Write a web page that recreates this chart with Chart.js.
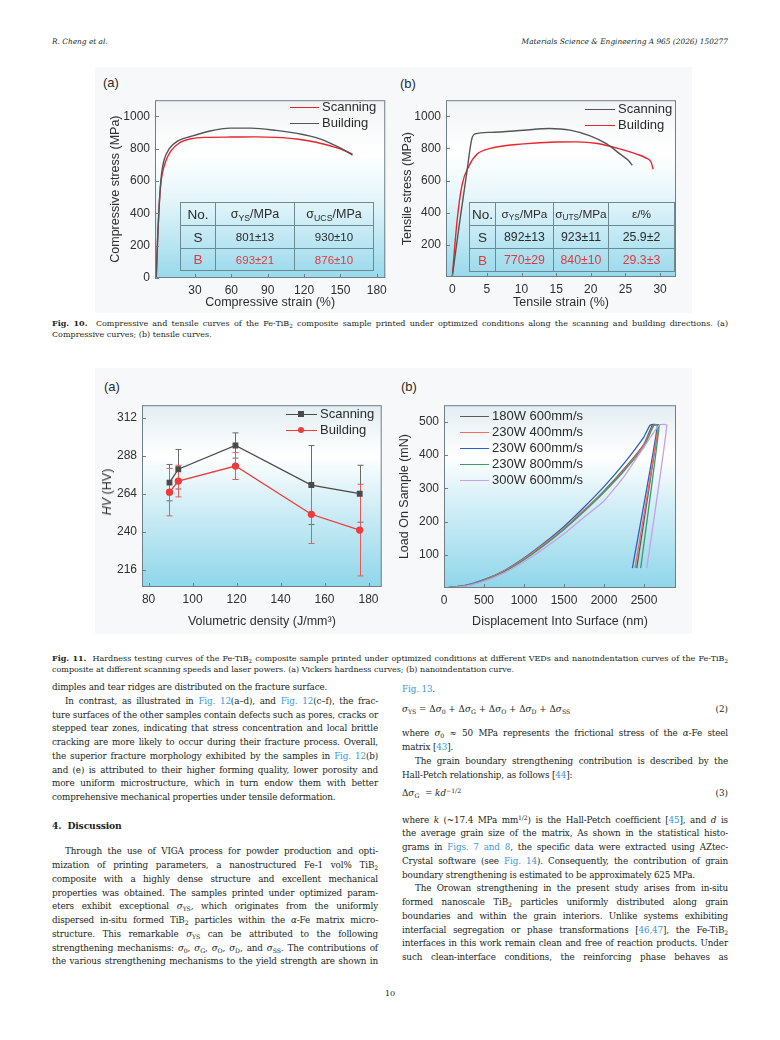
<!DOCTYPE html>
<html>
<head>
<meta charset="utf-8">
<script src="https://cdn.jsdelivr.net/npm/chart.js@4.4.1/dist/chart.umd.min.js"></script>
<style>
  body { margin: 0; background: #fff; }
  #page { position: relative; width: 780px; height: 1040px; overflow: hidden; font-family: "DejaVu Serif", serif; color: #231f20; }
  .hdr { position: absolute; top: 37px; font-style: italic; font-size: 7.4px; }
  .fig { position: absolute; background: #f7f8f9; }
  canvas { position: absolute; }
  .sans { font-family: "Liberation Sans", Arial, sans-serif; color: #2b2b2b; }
  .plabel { position: absolute; font-size: 13px; line-height: 14px; }
  .leg { position: absolute; font-size: 13px; line-height: 16px; white-space: nowrap; }
  .leg i { display: inline-block; height: 0; border-top: 1.4px solid; vertical-align: middle; position: relative; }
  .leg b { position: absolute; top: -4px; width: 6px; height: 6px; }
  table.tb { position: absolute; border-collapse: collapse; table-layout: fixed; }
  .tb td { border: 1px solid #6d8a92; text-align: center; padding: 0; white-space: nowrap; }
  .tb .big { font-size: 13.5px; }
  .tb .red { color: #e03a3e; }
  sub { font-size: 70%; vertical-align: -0.3em; line-height: 0; }
  sup { font-size: 70%; vertical-align: 0.45em; line-height: 0; }
  .cap { position: absolute; left: 52px; width: 676px; font-size: 8px; }
  .cap div, .col div { white-space: nowrap; text-align: justify; text-align-last: justify; }
  .cap div { height: 12.5px; line-height: 12.5px; }
  .col { position: absolute; width: 326px; font-size: 8.8px; letter-spacing: -0.14px; }
  .col div { height: 13.75px; line-height: 13.75px; }
  .col .end, .cap .end { text-align-last: left; }
  .col .ind { text-indent: 13px; }
  .lk { color: #3c97d3; }
  .eq { position: absolute; left: 402px; width: 326px; font-size: 8.8px; height: 14px; line-height: 14px; }
  .eq span.no { position: absolute; right: 0; }
</style>
</head>
<body>
<div id="page">
  <div class="hdr" style="left:52px">R. Cheng et al.</div>
  <div class="hdr" style="right:52px">Materials Science &amp; Engineering A 965 (2026) 150277</div>

  <!-- Fig. 10 -->
  <div class="fig" style="left:95px;top:67px;width:597px;height:246px"></div>
  <div class="plabel sans" style="left:103px;top:76px">(a)</div>
  <div class="plabel sans" style="left:400px;top:77px">(b)</div>
  <canvas id="comp" width="292" height="226" style="left:100px;top:88px"></canvas>
  <canvas id="tens" width="291" height="226" style="left:395px;top:88px"></canvas>

  <div class="leg sans" style="left:290px;top:99px"><i style="width:29px;margin-right:3px;border-color:#e8242c"></i>Scanning<br><i style="width:29px;margin-right:3px;border-color:#555"></i>Building</div>
  <div class="leg sans" style="left:585px;top:101px"><i style="width:30px;margin-right:3px;border-color:#555"></i>Scanning<br><i style="width:30px;margin-right:3px;border-color:#e8242c"></i>Building</div>

  <table class="tb sans" style="left:180px;top:202px;width:193px;height:68px">
    <colgroup><col style="width:35px"><col style="width:79px"><col style="width:79px"></colgroup>
    <tr style="height:23px;font-size:12.5px"><td class="big">No.</td><td>σ<sub>YS</sub>/MPa</td><td>σ<sub>UCS</sub>/MPa</td></tr>
    <tr style="height:23px;font-size:11.5px"><td class="big">S</td><td>801±13</td><td>930±10</td></tr>
    <tr style="height:22px;font-size:11.5px" class="red"><td class="big">B</td><td>693±21</td><td>876±10</td></tr>
  </table>
  <table class="tb sans" style="left:469px;top:202px;width:205px;height:69px">
    <colgroup><col style="width:26px"><col style="width:58px"><col style="width:55px"><col style="width:66px"></colgroup>
    <tr style="height:23px;font-size:11.8px"><td class="big">No.</td><td>σ<sub>YS</sub>/MPa</td><td>σ<sub>UTS</sub>/MPa</td><td>ε/%</td></tr>
    <tr style="height:23px;font-size:12.3px"><td class="big">S</td><td>892±13</td><td>923±11</td><td>25.9±2</td></tr>
    <tr style="height:23px;font-size:12.3px" class="red"><td class="big">B</td><td>770±29</td><td>840±10</td><td>29.3±3</td></tr>
  </table>

  <div class="cap" style="top:316.75px">
    <div><b>Fig. 10.</b>&nbsp; Compressive and tensile curves of the Fe-TiB<sub>2</sub> composite sample printed under optimized conditions along the scanning and building directions. (a)</div>
    <div class="end">Compressive curves; (b) tensile curves.</div>
  </div>

  <!-- Fig. 11 -->
  <div class="fig" style="left:95px;top:368px;width:597px;height:266px"></div>
  <div class="plabel sans" style="left:104px;top:380px">(a)</div>
  <div class="plabel sans" style="left:401px;top:380px">(b)</div>
  <canvas id="hard" width="292" height="240" style="left:95px;top:393px"></canvas>
  <canvas id="nano" width="294" height="240" style="left:392px;top:393px"></canvas>
  <div class="sans" style="position:absolute;left:107px;top:492px;transform:translate(-50%,-50%) rotate(-90deg);font-size:12.5px;white-space:nowrap"><i>HV</i> (HV)</div>

  <div class="leg sans" style="left:286px;top:406px"><i style="width:31px;margin-right:3px;border-color:#4a4a4a"><b style="left:12px;background:#4a4a4a"></b></i>Scanning<br><i style="width:31px;margin-right:3px;border-color:#ee3b3b"><b style="left:12px;background:#ee3b3b;border-radius:50%"></b></i>Building</div>
  <div class="leg sans" style="left:460px;top:408px;line-height:16.1px">
    <i style="width:29px;margin-right:3px;border-color:#5b5b5b"></i>180W 600mm/s<br>
    <i style="width:29px;margin-right:3px;border-color:#f26d5f"></i>230W 400mm/s<br>
    <i style="width:29px;margin-right:3px;border-color:#2f5fc4"></i>230W 600mm/s<br>
    <i style="width:29px;margin-right:3px;border-color:#3c9a6c"></i>230W 800mm/s<br>
    <i style="width:29px;margin-right:3px;border-color:#c9a0e6"></i>300W 600mm/s
  </div>

  <div class="cap" style="top:651.75px">
    <div><b>Fig. 11.</b>&nbsp; Hardness testing curves of the Fe-TiB<sub>2</sub> composite sample printed under optimized conditions at different VEDs and nanoindentation curves of the Fe-TiB<sub>2</sub></div>
    <div class="end">composite at different scanning speeds and laser powers. (a) Vickers hardness curves; (b) nanoindentation curve.</div>
  </div>

  <!-- body text, left column -->
  <div class="col" style="left:52px;top:681.1px">
    <div class="end">dimples and tear ridges are distributed on the fracture surface.</div>
    <div class="ind">In contrast, as illustrated in <span class="lk">Fig. 12</span>(a–d), and <span class="lk">Fig. 12</span>(c–f), the frac-</div>
    <div>ture surfaces of the other samples contain defects such as pores, cracks or</div>
    <div>stepped tear zones, indicating that stress concentration and local brittle</div>
    <div>cracking are more likely to occur during their fracture process. Overall,</div>
    <div>the superior fracture morphology exhibited by the samples in <span class="lk">Fig. 12</span>(b)</div>
    <div>and (e) is attributed to their higher forming quality, lower porosity and</div>
    <div>more uniform microstructure, which in turn endow them with better</div>
    <div class="end">comprehensive mechanical properties under tensile deformation.</div>
  </div>
  <div class="col" style="left:52px;top:819.1px;font-weight:bold;font-size:9.2px"><div class="end">4.&nbsp; Discussion</div></div>
  <div class="col" style="left:52px;top:845.4px">
    <div class="ind">Through the use of VIGA process for powder production and opti-</div>
    <div>mization of printing parameters, a nanostructured Fe-1 vol% TiB<sub>2</sub></div>
    <div>composite with a highly dense structure and excellent mechanical</div>
    <div>properties was obtained. The samples printed under optimized param-</div>
    <div>eters exhibit exceptional <i>σ</i><sub>YS</sub>, which originates from the uniformly</div>
    <div>dispersed in-situ formed TiB<sub>2</sub> particles within the <i>α</i>-Fe matrix micro-</div>
    <div>structure. This remarkable <i>σ</i><sub>YS</sub> can be attributed to the following</div>
    <div>strengthening mechanisms: <i>σ</i><sub>0</sub>, <i>σ</i><sub>G</sub>, <i>σ</i><sub>O</sub>, <i>σ</i><sub>D</sub>, and <i>σ</i><sub>SS</sub>. The contributions of</div>
    <div>the various strengthening mechanisms to the yield strength are shown in</div>
  </div>

  <!-- body text, right column -->
  <div class="col" style="left:402px;top:683.1px"><div class="end"><span class="lk">Fig. 13</span>.</div></div>
  <div class="eq" style="top:702px"><i>σ</i><sub>YS</sub> = Δ<i>σ</i><sub>0</sub> + Δ<i>σ</i><sub>G</sub> + Δ<i>σ</i><sub>O</sub> + Δ<i>σ</i><sub>D</sub> + Δ<i>σ</i><sub>SS</sub><span class="no">(2)</span></div>
  <div class="col" style="left:402px;top:727.4px">
    <div>where <i>σ</i><sub>0</sub> ≈ 50 MPa represents the frictional stress of the <i>α</i>-Fe steel</div>
    <div class="end">matrix [<span class="lk">43</span>].</div>
    <div class="ind">The grain boundary strengthening contribution is described by the</div>
    <div class="end">Hall-Petch relationship, as follows [<span class="lk">44</span>]:</div>
  </div>
  <div class="eq" style="top:786.3px">Δ<i>σ</i><sub>G</sub> &nbsp;= <i>kd</i><sup>−1/2</sup><span class="no">(3)</span></div>
  <div class="col" style="left:402px;top:813.6px">
    <div>where <i>k</i> (~17.4 MPa mm<sup>1/2</sup>) is the Hall-Petch coefficient [<span class="lk">45</span>], and <i>d</i> is</div>
    <div>the average grain size of the matrix, As shown in the statistical histo-</div>
    <div>grams in <span class="lk">Figs. 7 and 8</span>, the specific data were extracted using AZtec-</div>
    <div>Crystal software (see <span class="lk">Fig. 14</span>). Consequently, the contribution of grain</div>
    <div class="end">boundary strengthening is estimated to be approximately 625 MPa.</div>
    <div class="ind">The Orowan strengthening in the present study arises from in-situ</div>
    <div>formed nanoscale TiB<sub>2</sub> particles uniformly distributed along grain</div>
    <div>boundaries and within the grain interiors. Unlike systems exhibiting</div>
    <div>interfacial segregation or phase transformations [<span class="lk">46,47</span>], the Fe-TiB<sub>2</sub></div>
    <div>interfaces in this work remain clean and free of reaction products. Under</div>
    <div>such clean-interface conditions, the reinforcing phase behaves as</div>
  </div>

  <div style="position:absolute;left:380px;top:989px;width:20px;text-align:center;font-size:8px">10</div>
</div>

<script>
// Fig. 10(a) compressive curves
const compScanStrain = [-2, -0.8, 0.5, 1.9, 3.3, 6, 10, 17, 26, 38, 60, 80, 97, 114, 130, 145, 153, 160];
const compScanStress = [0, 250, 450, 590, 655, 725, 785, 835, 860, 870, 872, 873, 870, 860, 840, 810, 790, 765];
const compBuildStrain = [-2, -0.5, 1, 2.5, 4.5, 8.8, 15.6, 27, 40, 59, 76, 97, 119, 130, 141, 151, 160];
const compBuildStress = [0, 300, 520, 650, 730, 800, 847, 877, 905, 927, 927, 913, 888, 868, 836, 800, 760];
const compStrainTicks = [30, 60, 90, 120, 150, 180];
const compStressTicks = [0, 200, 400, 600, 800, 1000];

// Fig. 10(b) tensile curves
const tensScanStrain = [0, 1, 2.1, 2.8, 3.3, 5.5, 10.3, 14, 17, 19.9, 22.3, 24.2, 25.4, 26];
const tensScanStress = [0, 320, 650, 855, 890, 900, 913, 924, 914, 878, 828, 766, 726, 695];
const tensBuildStrain = [0, 0.7, 1.4, 2.4, 3.6, 5.5, 10.3, 15, 18, 21, 24.2, 26.6, 28, 28.7, 29];
const tensBuildStress = [0, 350, 570, 690, 765, 800, 828, 840, 841, 831, 797, 765, 740, 715, 670];
const tensStrainTicks = [0, 5, 10, 15, 20, 25, 30];
const tensStressTicks = [200, 400, 600, 800, 1000];

// Fig. 11(a) Vickers hardness
const vedValues = [89.5, 93.5, 119.5, 154, 176];
const hvScan = [271, 279.5, 294.5, 269.5, 264];
const hvScanErr = [11.5, 12.5, 8, 25, 18];
const hvBuild = [265, 272, 281.5, 251, 241];
const hvBuildErr = [15, 10, 8.5, 18.5, 29];
const vedTicks = [80, 100, 120, 140, 160, 180];
const hvTicks = [216, 240, 264, 288, 312];

// Fig. 11(b) nanoindentation (depth nm, load mN)
const depth180w600 = [0, 250, 500, 750, 1000, 1250, 1500, 1750, 2000, 2250, 2500, 2606, 2677, 2409];
const load180w600 = [0, 6, 24, 50, 87, 130, 178, 233, 292, 358, 433, 490, 490, 60];
const depth230w400 = [0, 250, 500, 750, 1000, 1250, 1500, 1750, 2000, 2250, 2500, 2620, 2680, 2388];
const load230w400 = [0, 6, 24, 51, 88, 132, 180, 235, 290, 355, 430, 490, 490, 60];
const depth230w600 = [0, 250, 500, 750, 1000, 1250, 1500, 1750, 2000, 2250, 2500, 2576, 2669, 2355];
const load230w600 = [0, 7, 25, 52, 90, 135, 185, 243, 305, 375, 455, 490, 490, 60];
const depth230w800 = [0, 250, 500, 750, 1000, 1250, 1500, 1750, 2000, 2250, 2500, 2625, 2690, 2459];
const load230w800 = [0, 6, 23, 49, 85, 128, 176, 230, 288, 352, 425, 490, 490, 60];
const depth300w600 = [0, 250, 500, 750, 1000, 1250, 1500, 1750, 2000, 2250, 2500, 2689, 2785, 2535];
const load300w600 = [0, 5, 21, 45, 79, 119, 163, 213, 262, 335, 424, 490, 490, 60];
const depthTicks = [0, 500, 1000, 1500, 2000, 2500];
const loadTicks = [100, 200, 300, 400, 500];

const SANS = '"Liberation Sans", Arial, sans-serif';
const INK = '#2f2f2f';
const RED = '#e8242c';
const GRAY = '#555555';

function pts(xs, ys) {
  return xs.map((x, i) => ({ x: x, y: ys[i] }));
}

// plot background gradient, frame and inward ticks
const framePlugin = {
  id: 'frame',
  beforeDraw(chart, args, opts) {
    if (!opts.stops) return;
    const { ctx, chartArea: a } = chart;
    const g = ctx.createLinearGradient(0, a.top, 0, a.bottom);
    opts.stops.forEach(s => g.addColorStop(s[0], s[1]));
    ctx.save();
    ctx.fillStyle = g;
    ctx.fillRect(a.left, a.top, a.right - a.left, a.bottom - a.top);
    ctx.restore();
  },
  afterDraw(chart, args, opts) {
    if (!opts.stops) return;
    const { ctx, chartArea: a, scales } = chart;
    ctx.save();
    ctx.strokeStyle = '#6e7f86';
    ctx.lineWidth = 1;
    ctx.strokeRect(a.left + 0.5, a.top + 0.5, a.right - a.left - 1, a.bottom - a.top - 1);
    ctx.beginPath();
    scales.x.ticks.forEach(t => {
      const px = Math.round(scales.x.getPixelForValue(t.value)) + 0.5;
      ctx.moveTo(px, a.bottom);
      ctx.lineTo(px, a.bottom - 4);
    });
    scales.y.ticks.forEach(t => {
      const py = Math.round(scales.y.getPixelForValue(t.value)) + 0.5;
      ctx.moveTo(a.left, py);
      ctx.lineTo(a.left + 4, py);
    });
    ctx.stroke();
    ctx.restore();
  }
};

// vertical error bars from dataset.errors
const errorBarPlugin = {
  id: 'errbars',
  beforeDatasetsDraw(chart) {
    const ctx = chart.ctx;
    const ys = chart.scales.y;
    chart.data.datasets.forEach((ds, i) => {
      if (!ds.errors) return;
      const meta = chart.getDatasetMeta(i);
      ctx.save();
      ctx.strokeStyle = ds.errColor;
      ctx.lineWidth = 1;
      meta.data.forEach((el, j) => {
        const v = ds.data[j].y, e = ds.errors[j];
        const top = ys.getPixelForValue(v + e), bot = ys.getPixelForValue(v - e);
        const x = Math.round(el.x) + 0.5;
        ctx.beginPath();
        ctx.moveTo(x, top); ctx.lineTo(x, bot);
        ctx.moveTo(x - 3, top); ctx.lineTo(x + 3, top);
        ctx.moveTo(x - 3, bot); ctx.lineTo(x + 3, bot);
        ctx.stroke();
      });
      ctx.restore();
    });
  }
};

Chart.register(framePlugin, errorBarPlugin);

function axis(min, max, ticks, size, title) {
  return {
    type: 'linear',
    min: min,
    max: max,
    afterBuildTicks: s => { s.ticks = ticks.map(v => ({ value: v })); },
    afterFit: s => { if (s.isHorizontal()) s.height = size; else s.width = size; },
    grid: { display: false, drawTicks: false },
    border: { display: false },
    ticks: {
      autoSkip: false, maxRotation: 0, padding: 5, color: INK,
      font: { family: SANS, size: 12 },
      callback: v => String(v)   // no thousands separator
    },
    title: title
      ? { display: true, text: title, color: INK, font: { family: SANS, size: 12.5 }, padding: { top: 0, bottom: 4 } }
      : { display: false }
  };
}

function line(label, data, color, extra) {
  return Object.assign({
    label: label,
    data: data,
    showLine: true,
    borderColor: color,
    backgroundColor: color,
    borderWidth: 1.4,
    pointRadius: 0,
    cubicInterpolationMode: 'monotone'
  }, extra || {});
}

function draw(id, datasets, xAxis, yAxis, pad, stops) {
  return new Chart(document.getElementById(id), {
    type: 'scatter',
    data: { datasets: datasets },
    options: {
      responsive: false,
      animation: false,
      devicePixelRatio: 1,
      layout: { padding: pad },
      scales: { x: xAxis, y: yAxis },
      plugins: { legend: { display: false }, tooltip: { enabled: false }, frame: { stops: stops } }
    }
  });
}

const fig10Bg = [[0, '#f1f4f5'], [0.3, '#ffffff'], [0.55, '#e6f6fa'], [1, '#98d9ec']];
const fig11Bg = [[0, '#e3edf2'], [0.28, '#ffffff'], [0.5, '#daf1f8'], [1, '#8fd6ea']];

draw('comp',
  [line('Building', pts(compBuildStrain, compBuildStress), GRAY),
   line('Scanning', pts(compScanStrain, compScanStress), RED)],
  axis(-3, 187, compStrainTicks, 36, 'Compressive strain (%)'),
  axis(0, 1100, compStressTicks, 47, 'Compressive stress (MPa)'),
  { left: 8, top: 9, right: 6, bottom: 0 }, fig10Bg);

draw('tens',
  [line('Scanning', pts(tensScanStrain, tensScanStress), GRAY),
   line('Building', pts(tensBuildStrain, tensBuildStress), RED)],
  axis(-0.9, 32.3, tensStrainTicks, 37, 'Tensile strain (%)'),
  axis(0, 1100, tensStressTicks, 45.5, 'Tensile stress (MPa)'),
  { left: 5.5, top: 9, right: 10, bottom: 0 }, fig10Bg);

draw('hard',
  [line('Scanning', pts(vedValues, hvScan), '#4a4a4a',
     { cubicInterpolationMode: 'default', tension: 0, pointRadius: 3.2, pointStyle: 'rect', borderWidth: 1.3, errors: hvScanErr, errColor: '#6a6a6a' }),
   line('Building', pts(vedValues, hvBuild), '#ee3b3b',
     { cubicInterpolationMode: 'default', tension: 0, pointRadius: 3, pointStyle: 'circle', borderWidth: 1.3, errors: hvBuildErr, errColor: '#e85a5a' })],
  axis(77, 186, vedTicks, 46, 'Volumetric density (J/mm³)'),
  axis(205, 320, hvTicks, 47, null),
  { left: 0, top: 9, right: 5, bottom: 0 }, fig11Bg);

const nanoOpts = { cubicInterpolationMode: 'default', tension: 0.15, borderWidth: 1.3 };
draw('nano',
  [line('300W 600mm/s', pts(depth300w600, load300w600), '#c9a0e6', nanoOpts),
   line('230W 800mm/s', pts(depth230w800, load230w800), '#3c9a6c', nanoOpts),
   line('230W 400mm/s', pts(depth230w400, load230w400), '#f26d5f', nanoOpts),
   line('180W 600mm/s', pts(depth180w600, load180w600), '#5b5b5b', nanoOpts),
   line('230W 600mm/s', pts(depth230w600, load230w600), '#2f5fc4', nanoOpts)],
  axis(0, 2900, depthTicks, 45, 'Displacement Into Surface (nm)'),
  axis(0, 550, loadTicks, 46.5, 'Load On Sample (mN)'),
  { left: 5.5, top: 9, right: 10, bottom: 0 }, fig11Bg);
</script>
</body>
</html>
